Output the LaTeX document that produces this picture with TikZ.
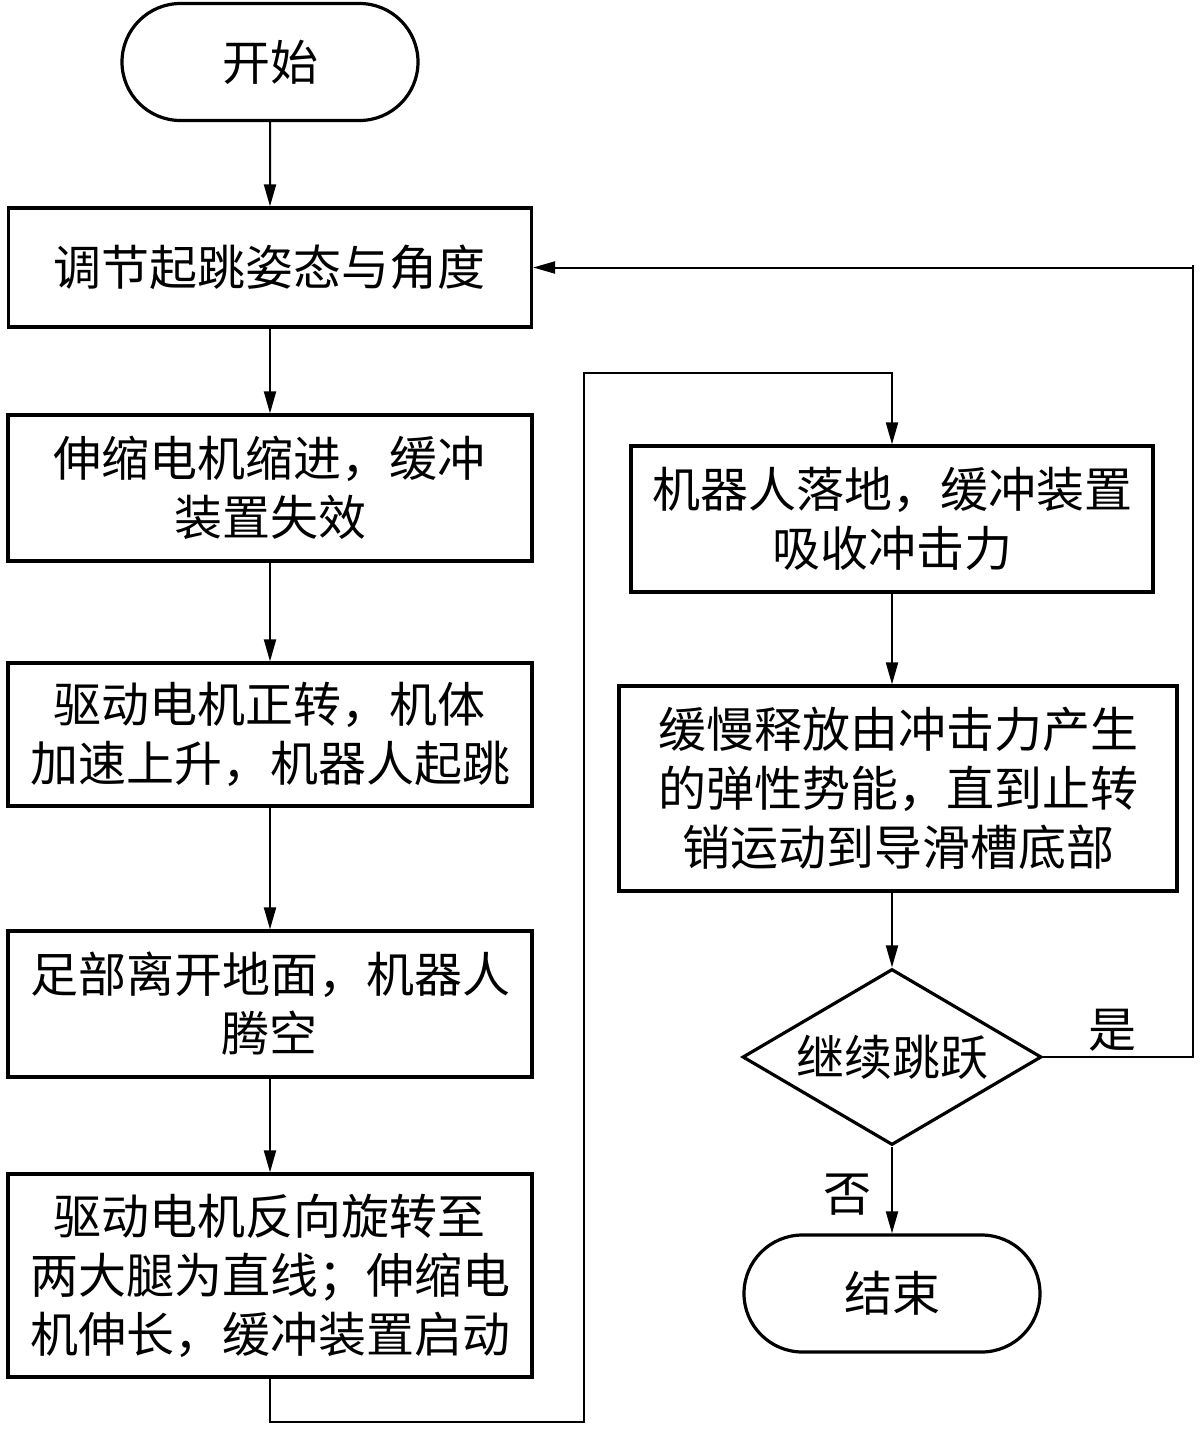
\documentclass[tikz,border=0pt]{standalone}
\usepackage{fontspec}
\setmainfont{Noto Sans CJK SC}
\usepackage{tikz}
\usetikzlibrary{arrows.meta,positioning,shapes.geometric,shapes.misc,calc}

\begin{document}
\begin{tikzpicture}[x=0.5pt,y=-0.5pt,
    every node/.style={font=\fontsize{24}{29.5}\selectfont},
    stepbox/.style={draw,line width=1.6pt,rectangle,align=center,inner sep=0pt},
    term/.style={draw,line width=1.6pt,rounded rectangle,inner sep=0pt,
      minimum width=148pt,minimum height=58.5pt},
    decide/.style={draw,line width=1.6pt,diamond,aspect=1.7,inner sep=0pt,
      minimum width=149.5pt,minimum height=88pt},
    flow/.style={line width=1pt,-{Triangle[length=11pt,width=6pt]}},
    wire/.style={line width=1pt}]
  \useasboundingbox (0,0) rectangle (1200,1434);
  \node[term] (start) at (270,62) {开始};
  \node[stepbox,minimum width=261.5pt,minimum height=59.5pt] (adjust) at (270,267.5)
    {调节起跳姿态与角度};
  \node[stepbox,minimum width=262pt,minimum height=73pt] (retract) at (270,488)
    {伸缩电机缩进，缓冲\\装置失效};
  \node[stepbox,minimum width=262pt,minimum height=71.5pt] (takeoff) at (270,734.5)
    {驱动电机正转，机体\\加速上升，机器人起跳};
  \node[stepbox,minimum width=262pt,minimum height=73pt] (air) at (270,1004)
    {足部离开地面，机器人\\腾空};
  \node[stepbox,minimum width=262pt,minimum height=101.5pt] (extend) at (270,1275.5)
    {驱动电机反向旋转至\\两大腿为直线；伸缩电\\机伸长，缓冲装置启动};
  \node[stepbox,minimum width=261pt,minimum height=73pt] (land) at (892,519)
    {机器人落地，缓冲装置\\吸收冲击力};
  \node[stepbox,minimum width=279pt,minimum height=102.5pt] (release) at (898,788.5)
    {缓慢释放由冲击力产生\\的弹性势能，直到止转\\销运动到导滑槽底部};
  \node[decide] (again) at (892,1057) {继续跳跃};
  \node[term] (stop) at (892,1293.5) {结束};
  \node (yes) at (1112,1030) {是};
  \node (no) at (847,1195) {否};
  \coordinate (loopL) at (584,373);
  \coordinate (loopR) at (1193,265);
  \draw[flow] (start) -- (adjust);
  \draw[flow] (adjust) -- (retract);
  \draw[flow] (retract) -- (takeoff);
  \draw[flow] (takeoff) -- (air);
  \draw[flow] (air) -- (extend);
  \draw[flow] (extend.south) -- ++(0,43) -| (loopL) -| (land.north);
  \draw[flow] (land.south) -- (land.south |- release.north);
  \draw[flow] (release.south -| again.north) -- (again.north);
  \draw[flow] (again.east) -| (loopR) |- (adjust.east);
  \draw[flow] (again.south) -- (stop.north);
\end{tikzpicture}
\end{document}
